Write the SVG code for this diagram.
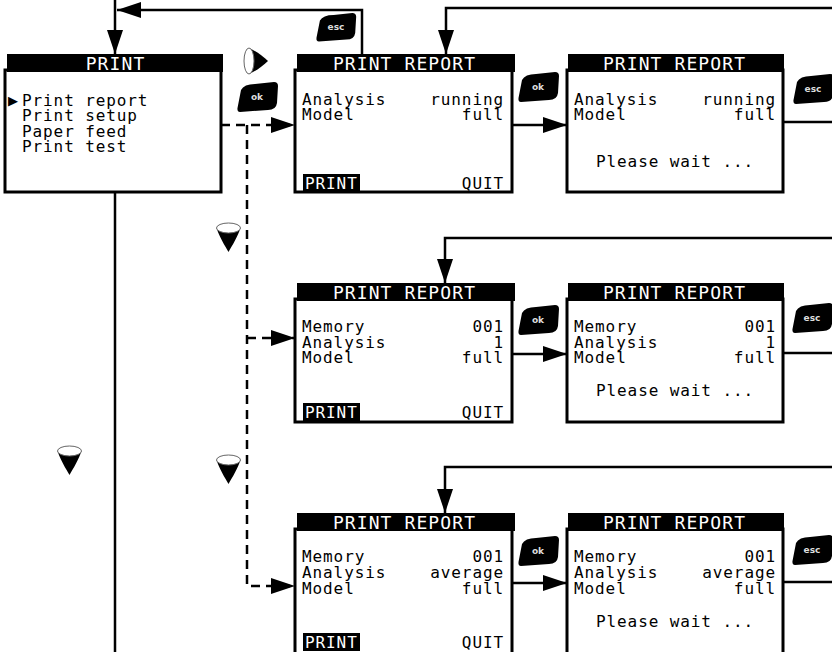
<svg xmlns="http://www.w3.org/2000/svg" width="832" height="652" viewBox="0 0 832 652">
<style>
.body{fill:#fff;stroke:#000;stroke-width:3}
.bar{fill:#000}
.t{font-family:"DejaVu Sans Mono","Liberation Mono",monospace;font-size:16px;letter-spacing:0.9px;fill:#000}
.tt{font-family:"DejaVu Sans Mono","Liberation Mono",monospace;font-size:18px;letter-spacing:1.1px;fill:#fff}
.w{fill:#fff}
.e{text-anchor:end}
.m{text-anchor:middle}
.ln{fill:none;stroke:#000;stroke-width:2.5}
.ds{stroke-dasharray:9 6}
.key{fill:#000}
.kt{font-family:"DejaVu Sans","Liberation Sans",sans-serif;font-weight:bold;font-size:9px;fill:#ddd;text-anchor:middle}
.ring{fill:#fff;stroke:#666;stroke-width:1}
</style>
<defs>
<marker id="ah" markerUnits="userSpaceOnUse" markerWidth="24" markerHeight="16" viewBox="0 0 24 16" refX="24" refY="8" orient="auto">
<path d="M0,0 L24,8 L0,16 Z" fill="#000"/>
</marker>
<path id="cap" d="M4,8 Q7,2 18,2 L37,0 Q41,0 41,4 L40,21 Q39,28 31,28 L3,30 Q0,30 0.5,26 Z"/>
<g id="down">
<path d="M0.5,6 C3,14 9,24 12.5,30 C16,24 22,14 24.5,6 Z" fill="#000"/>
<ellipse class="ring" cx="12.5" cy="6" rx="12" ry="5"/>
</g>
<g id="right">
<path d="M6,1 C13,4 20,9 25,14 C20,19 13,24 6,27 Z" fill="#000"/>
<ellipse class="ring" cx="6" cy="14" rx="5" ry="13"/>
</g>
</defs>

<g id="connectors">
<path class="ln" d="M115,0 V54" marker-end="url(#ah)"/>
<path class="ln" d="M362,54 V10 H117" marker-end="url(#ah)"/>
<path class="ln" d="M832,8 H446 V54" marker-end="url(#ah)"/>
<path class="ln" d="M512,125 H567" marker-end="url(#ah)"/>
<path class="ln" d="M783,122 H832"/>
<path class="ln" d="M115,192 V652"/>
<path class="ln ds" d="M221,125 H295" marker-end="url(#ah)"/>
<path class="ln ds" d="M247,125 V586 H295" marker-end="url(#ah)"/>
<path class="ln ds" d="M247,338 H295" marker-end="url(#ah)"/>
<path class="ln" d="M832,238 H445 V283" marker-end="url(#ah)"/>
<path class="ln" d="M512,354 H567" marker-end="url(#ah)"/>
<path class="ln" d="M783,353 H832"/>
<path class="ln" d="M832,467 H445 V513" marker-end="url(#ah)"/>
<path class="ln" d="M512,583 H567" marker-end="url(#ah)"/>
<path class="ln" d="M783,582 H832"/>
</g>

<g id="keys">
<g id="key-right"><use href="#right" transform="translate(243,47)"/></g>
<g id="key-ok-0"><use href="#cap" class="key" transform="translate(237,82)"/><text class="kt" x="257" y="100">ok</text></g>
<g id="key-esc-top"><use href="#cap" class="key" transform="translate(316,13) scale(0.98,0.95)"/><text class="kt" x="336" y="30">esc</text></g>
<g id="key-ok-1"><use href="#cap" class="key" transform="translate(518,72)"/><text class="kt" x="538" y="90">ok</text></g>
<g id="key-esc-1"><use href="#cap" class="key" transform="translate(793,74)"/><text class="kt" x="813" y="92">esc</text></g>
<g id="key-down-1"><use href="#down" transform="translate(216,222)"/></g>
<g id="key-ok-2"><use href="#cap" class="key" transform="translate(518,305)"/><text class="kt" x="538" y="323">ok</text></g>
<g id="key-esc-2"><use href="#cap" class="key" transform="translate(792,303)"/><text class="kt" x="812" y="321">esc</text></g>
<g id="key-down-left"><use href="#down" transform="translate(57,445)"/></g>
<g id="key-down-2"><use href="#down" transform="translate(216,454)"/></g>
<g id="key-ok-3"><use href="#cap" class="key" transform="translate(518,536)"/><text class="kt" x="538" y="554">ok</text></g>
<g id="key-esc-3"><use href="#cap" class="key" transform="translate(792,535)"/><text class="kt" x="812" y="553">esc</text></g>
</g>

<g id="print-menu">
<rect class="body" x="5" y="70" width="216" height="122"/>
<rect class="bar" x="7" y="54" width="216" height="18"/>
<text class="tt m" x="115.5" y="70">PRINT</text>
<text x="8" y="105" style="font-family:'DejaVu Sans',sans-serif;font-size:13px">▶</text>
<text class="t" x="22" y="106">Print report</text>
<text class="t" x="22" y="121">Print setup</text>
<text class="t" x="22" y="136.5">Paper feed</text>
<text class="t" x="22" y="152">Print test</text>
</g>

<g id="report-running">
<rect class="body" x="295" y="70" width="217" height="122"/>
<rect class="bar" x="297" y="54" width="218" height="18"/>
<text class="tt m" x="404.5" y="70">PRINT REPORT</text>
<text class="t" x="302" y="105">Analysis</text>
<text class="t" x="302" y="120">Model</text>
<text class="t e" x="504" y="105">running</text>
<text class="t e" x="504" y="120">full</text>
<rect class="bar" x="303" y="174" width="57" height="18"/>
<text class="t w" x="305" y="189">PRINT</text>
<text class="t e" x="504" y="189">QUIT</text>
</g>

<g id="report-running-wait">
<rect class="body" x="567" y="70" width="216" height="122"/>
<rect class="bar" x="568" y="54" width="216" height="18"/>
<text class="tt m" x="674.5" y="70">PRINT REPORT</text>
<text class="t" x="574" y="105">Analysis</text>
<text class="t" x="574" y="120">Model</text>
<text class="t e" x="776" y="105">running</text>
<text class="t e" x="776" y="120">full</text>
<text class="t m" x="675" y="167">Please wait ...</text>
</g>

<g id="report-memory">
<rect class="body" x="295" y="299" width="217" height="123"/>
<rect class="bar" x="297" y="283" width="218" height="18"/>
<text class="tt m" x="404.5" y="299">PRINT REPORT</text>
<text class="t" x="302" y="332">Memory</text>
<text class="t" x="302" y="347.5">Analysis</text>
<text class="t" x="302" y="363">Model</text>
<text class="t e" x="504" y="332">001</text>
<text class="t e" x="504" y="347.5">1</text>
<text class="t e" x="504" y="363">full</text>
<rect class="bar" x="303" y="403" width="57" height="18"/>
<text class="t w" x="305" y="418">PRINT</text>
<text class="t e" x="504" y="418">QUIT</text>
</g>

<g id="report-memory-wait">
<rect class="body" x="567" y="299" width="216" height="123"/>
<rect class="bar" x="568" y="283" width="216" height="18"/>
<text class="tt m" x="674.5" y="299">PRINT REPORT</text>
<text class="t" x="574" y="332">Memory</text>
<text class="t" x="574" y="347.5">Analysis</text>
<text class="t" x="574" y="363">Model</text>
<text class="t e" x="776" y="332">001</text>
<text class="t e" x="776" y="347.5">1</text>
<text class="t e" x="776" y="363">full</text>
<text class="t m" x="675" y="396">Please wait ...</text>
</g>

<g id="report-average">
<rect class="body" x="295" y="529" width="217" height="126"/>
<rect class="bar" x="297" y="513" width="218" height="18"/>
<text class="tt m" x="404.5" y="529">PRINT REPORT</text>
<text class="t" x="302" y="562">Memory</text>
<text class="t" x="302" y="578">Analysis</text>
<text class="t" x="302" y="594">Model</text>
<text class="t e" x="504" y="562">001</text>
<text class="t e" x="504" y="578">average</text>
<text class="t e" x="504" y="594">full</text>
<rect class="bar" x="303" y="633" width="57" height="18"/>
<text class="t w" x="305" y="648">PRINT</text>
<text class="t e" x="504" y="648">QUIT</text>
</g>

<g id="report-average-wait">
<rect class="body" x="567" y="529" width="216" height="126"/>
<rect class="bar" x="568" y="513" width="216" height="18"/>
<text class="tt m" x="674.5" y="529">PRINT REPORT</text>
<text class="t" x="574" y="562">Memory</text>
<text class="t" x="574" y="578">Analysis</text>
<text class="t" x="574" y="594">Model</text>
<text class="t e" x="776" y="562">001</text>
<text class="t e" x="776" y="578">average</text>
<text class="t e" x="776" y="594">full</text>
<text class="t m" x="675" y="627">Please wait ...</text>
</g>
</svg>
